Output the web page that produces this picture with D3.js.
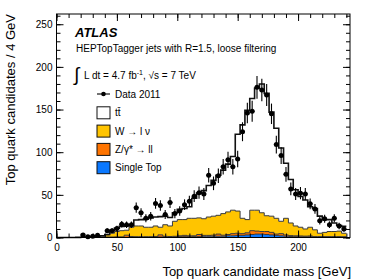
<!DOCTYPE html>
<html>
<head>
<meta charset="utf-8">
<script src="https://cdn.jsdelivr.net/npm/d3@7"></script>
<style>
body{margin:0;background:#fff;}
svg{display:block;font-family:"Liberation Sans",Arial,Helvetica,sans-serif;}
</style>
</head>
<body>
<div id="chart"></div>
<script>
// 4 GeV bins, low edges
var binLow = [0,4,8,12,16,20,24,28,32,36,40,44,48,52,56,60,64,68,72,76,80,84,88,92,96,100,104,108,112,116,
  120,124,128,132,136,140,144,148,152,156,160,164,168,172,176,180,184,188,192,196,200,204,208,212,216,220,224,228,232,236];
var binWidth = 4;

var singleTop = [0,0,0,0,0,0,0,0,0,0,0.2,0.2,0.2,0.2,0.2,0.4,0.4,0.4,0.4,0.4,0.6,0.6,0.6,0.6,0.6,1,1,1,1,1,
  1.5,1.5,1.5,1.5,1.5,2,2,2.5,2.5,3,3.5,4,4,3.5,3,2.5,2,1.5,1.2,1,0.8,0.8,0.8,0.5,0.5,0.5,0.5,0.5,0.5,0.5];
var zJets = [0,0,0,0,0,0,0,0,0,0,0.3,0.3,0.5,0.5,2.5,0.8,0.5,0.5,0.5,0.5,0.6,2.5,0.8,0.6,0.8,1,1.5,1,1,2.5,
  1,1,1.2,2.5,1.2,1.5,2.5,2.5,2,2.5,4.5,3.5,3,3.5,3,1.5,2.5,1.5,1,1,1,0.8,1,0.5,0.5,0.5,0.5,0.5,0.5,0.3];
var wJets = [0,0,0,0,0,0,0,0,0,1,2.5,4.5,6.3,7.3,5.8,10.8,12.6,12.6,11.1,11.1,12.3,8.9,13.6,12.3,17.6,19,18.5,20.5,20.5,19.5,
  19.5,21.5,22.3,22,25.3,26.5,27.5,26,18,15.5,24,24.5,22,18.5,19,18.5,14.5,19.5,14.8,11.5,10.2,8.4,10.2,8,4,5,6,6,6.5,4.2];
var ttbar = [0,0,0,0,0.2,0.3,0.5,0.8,1.2,1,0.5,3.5,4,5,5,2,7,7.5,9.5,11,10.5,12.5,10,10,10,12,13,13.5,23.5,29,
  33,37,42,47,51,56,63,90,109.5,128,131,143,151,143.5,122,105.5,86,64.5,51,42.5,36,34,24,25,20,15,14,10,6.5,8];

var dataMass = [22,26,30,34,42,46,50,54,58,62,66,70,74,78,82,86,90,94,98,102,106,110,114,118,122,126,130,134,138,142,
  146,150,154,158,162,166,170,174,178,182,186,190,194,198,202,206,210,214,218,222,226,230,234,238];
var dataCounts = [3,1,1.5,2.5,8,8,10.5,15.5,15,15,35,29,22.5,25,40,37.5,27,41,28,31,38.5,42.5,48.5,52.5,51,73,63.5,72.5,83,91,
  83,92,124,146,148,176,173,167,145,109,96,74,57,51,52,51,39.5,33.5,19.5,22,15,22.5,13.5,10];
var dataErr = [1.7,1,1.2,1.6,2.8,2.8,3.2,3.9,3.9,3.9,5.9,5.4,4.7,5,6.3,6.1,5.2,6.4,5.3,5.6,6.2,6.5,7,7.2,7.1,8.5,8,8.5,9.1,9.5,
  9.1,9.6,11.1,12.1,12.2,13.3,13.2,12.9,12,10.4,9.8,8.6,7.5,7.1,7.2,7.1,6.3,5.8,4.4,4.7,3.9,4.7,3.7,3.2];

var xTicks = [0,50,100,150,200];
var yTicks = [0,50,100,150,200,250];

var legendLabels = ["Data 2011","t\u0074\u0304","W \u2192 l \u03bd","Z/\u03b3* \u2192 ll","Single Top"];
var legendColors = [null,"#ffffff","#ffc400","#ff7400","#0a78ff"];

function drawChart(){
  var width = 374, height = 280;
  var pLeft = 56.5, pRight = 350, pTop = 14, pBottom = 237.5;

  var svg = d3.select("#chart").append("svg")
    .attr("width", width).attr("height", height);

  var x = d3.scaleLinear().domain([0, 243]).range([pLeft, pRight]);
  var y = d3.scaleLinear().domain([0, 262]).range([pBottom, pTop]);

  // stacked histograms
  var rows = binLow.map(function(b, i){
    return {m: b, st: singleTop[i], z: zJets[i], w: wJets[i], tt: ttbar[i]};
  });
  // extra point so the last bin gets its width with curveStepAfter
  var last = rows[rows.length-1];
  rows.push({m: last.m + binWidth, st: last.st, z: last.z, w: last.w, tt: last.tt});

  var layers = d3.stack().keys(["st","z","w","tt"])(rows);
  var fills = {st: "#0a78ff", z: "#ff7400", w: "#ffc400", tt: "#ffffff"};

  var plot = svg.append("g");

  var area = d3.area()
    .curve(d3.curveStepAfter)
    .x(function(d){ return x(d.data.m); })
    .y0(function(d){ return y(d[0]); })
    .y1(function(d){ return y(d[1]); });

  var topLine = d3.line()
    .curve(d3.curveStepAfter)
    .x(function(d){ return x(d.data.m); })
    .y(function(d){ return y(d[1]); });

  plot.selectAll("path.fill")
    .data(layers)
    .enter()
    .append("path")
    .attr("class","fill")
    .attr("d", area)
    .attr("fill", function(d){ return fills[d.key]; });

  plot.selectAll("path.edge")
    .data(layers)
    .enter()
    .append("path")
    .attr("class","edge")
    .attr("d", topLine)
    .attr("fill","none")
    .attr("stroke", function(d){ return d.key == "tt" ? "#111" : "#3a3a3a"; })
    .style("stroke-width", function(d){ return d.key == "tt" ? "1.6px" : "1px"; });

  // data points
  var pts = dataMass.map(function(m, i){ return {m: m, v: dataCounts[i], e: dataErr[i]}; });
  var dp = plot.append("g");
  dp.selectAll("line.ey").data(pts).enter().append("line")
    .attr("x1", function(d){ return x(d.m); })
    .attr("x2", function(d){ return x(d.m); })
    .attr("y1", function(d){ return y(Math.max(0, d.v - d.e)); })
    .attr("y2", function(d){ return y(d.v + d.e); })
    .attr("stroke","#000").style("stroke-width","1.1px");
  dp.selectAll("line.ex").data(pts).enter().append("line")
    .attr("x1", function(d){ return x(d.m - binWidth/2); })
    .attr("x2", function(d){ return x(d.m + binWidth/2); })
    .attr("y1", function(d){ return y(d.v); })
    .attr("y2", function(d){ return y(d.v); })
    .attr("stroke","#000").style("stroke-width","1.1px");
  dp.selectAll("circle").data(pts).enter().append("circle")
    .attr("cx", function(d){ return x(d.m); })
    .attr("cy", function(d){ return y(d.v); })
    .attr("r", 2.5)
    .attr("fill","#000");

  // axes with inside ticks
  function minorRange(a, b, s){ var r = []; for(var v=a; v<=b; v+=s){ r.push(v); } return r; }
  var axisG = svg.append("g").style("font-size","13px");

  axisG.append("g").attr("transform","translate(" + pLeft + ",0)")
    .call(d3.axisLeft(y).tickValues(yTicks).tickSize(-7).tickPadding(4));
  axisG.append("g").attr("transform","translate(" + pLeft + ",0)")
    .call(d3.axisLeft(y).tickValues(minorRange(0,260,10)).tickSize(-4).tickFormat(""));
  axisG.append("g").attr("transform","translate(" + pRight + ",0)")
    .call(d3.axisRight(y).tickValues(yTicks).tickSize(-7).tickFormat(""));
  axisG.append("g").attr("transform","translate(" + pRight + ",0)")
    .call(d3.axisRight(y).tickValues(minorRange(0,260,10)).tickSize(-4).tickFormat(""));

  axisG.append("g").attr("transform","translate(0," + pBottom + ")")
    .call(d3.axisBottom(x).tickValues(xTicks).tickSize(-7).tickPadding(6));
  axisG.append("g").attr("transform","translate(0," + pBottom + ")")
    .call(d3.axisBottom(x).tickValues(minorRange(0,240,10)).tickSize(-4).tickFormat(""));
  axisG.append("g").attr("transform","translate(0," + pTop + ")")
    .call(d3.axisTop(x).tickValues(xTicks).tickSize(-7).tickFormat(""));
  axisG.append("g").attr("transform","translate(0," + pTop + ")")
    .call(d3.axisTop(x).tickValues(minorRange(0,240,10)).tickSize(-4).tickFormat(""));

  axisG.selectAll(".domain").remove();
  axisG.selectAll("text").attr("fill","#000").style("font-family","'Liberation Sans',Arial,sans-serif");
  axisG.selectAll("line").attr("stroke","#000");

  svg.append("rect")
    .attr("x", pLeft).attr("y", pTop)
    .attr("width", pRight-pLeft).attr("height", pBottom-pTop)
    .attr("fill","none").attr("stroke","#000").style("stroke-width","1px");

  // axis titles
  svg.append("text")
    .attr("transform","translate(15," + pTop + ") rotate(-90)")
    .attr("text-anchor","end")
    .style("font-size","13px")
    .text("Top quark candidates / 4 GeV");
  svg.append("text")
    .attr("x", pRight+1).attr("y", 276)
    .attr("text-anchor","end")
    .style("font-size","13px")
    .text("Top quark candidate mass [GeV]");

  // labels
  svg.append("text")
    .attr("x", 75).attr("y", 36.5)
    .style("font-size","13px").style("font-weight","bold").style("font-style","italic")
    .text("ATLAS");
  svg.append("text")
    .attr("x", 76).attr("y", 52)
    .style("font-size","10px")
    .text("HEPTopTagger jets with R=1.5, loose filtering");
  svg.append("text")
    .attr("x", 74).attr("y", 81)
    .style("font-size","19px")
    .text("\u222b");
  var lum = svg.append("text")
    .attr("x", 84).attr("y", 79)
    .style("font-size","10px");
  lum.append("tspan").text("L dt = 4.7 fb");
  lum.append("tspan").attr("dy",-4).style("font-size","7px").text("-1");
  lum.append("tspan").attr("dy",4).text(", \u221as = 7 TeV");

  // legend
  var leg = svg.append("g");
  legendLabels.forEach(function(lab, i){
    var yy = 88 + i*18.3;
    if(i == 0){
      leg.append("line").attr("x1",97).attr("x2",110).attr("y1",yy+6).attr("y2",yy+6)
        .attr("stroke","#000").style("stroke-width","1.1px");
      leg.append("circle").attr("cx",103.5).attr("cy",yy+6).attr("r",2.3).attr("fill","#000");
    } else {
      leg.append("rect").attr("x",97).attr("y",yy+0.5).attr("width",13).attr("height",12)
        .attr("fill",legendColors[i]).attr("stroke","#111").style("stroke-width","1px");
    }
    leg.append("text").attr("x",115).attr("y",yy+10)
      .style("font-size","10px").text(lab);
  });
}

drawChart();
</script>
</body>
</html>
